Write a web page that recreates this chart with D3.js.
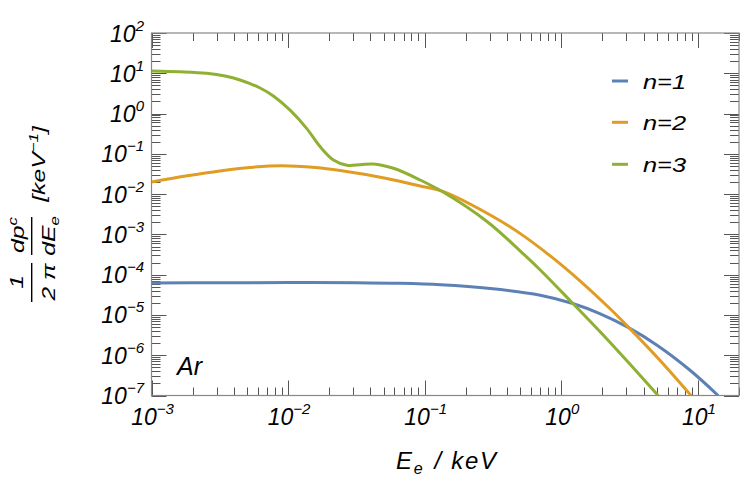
<!DOCTYPE html>
<html><head><meta charset="utf-8">
<script src="https://cdn.jsdelivr.net/npm/d3@7"></script>
<style>body{margin:0;background:#fff}text{font-family:"Liberation Sans",Arial,Helvetica,sans-serif;font-style:italic;fill:#000}</style>
</head><body>
<svg id="c" width="747" height="477"></svg>
<script>
// ---- data ----
const seriesNames = ["n=1", "n=2", "n=3"];
const seriesColors = ["#5E81B5", "#E19C24", "#8FB032"];

const n1Energy = [0.001, 0.00316, 0.01, 0.0316, 0.0662, 0.1309, 0.302, 0.7015, 1.197, 1.932, 3.062, 5.023, 8.81, 14.06];
const n1Value  = [6.22e-5, 6.31e-5, 6.36e-5, 6.3e-5, 6.08e-5, 5.6e-5, 4.53e-5, 3.09e-5, 1.945e-5, 1.067e-5, 4.97e-6, 1.775e-6, 4.18e-7, 1.0e-7];

const n2Energy = [0.001, 0.001778, 0.003162, 0.005267, 0.008991, 0.01585, 0.02404, 0.05049, 0.09268, 0.1374, 0.302, 0.5012, 0.9036, 1.377, 2.286, 3.062, 5.309, 8.913];
const n2Value  = [0.02, 0.028, 0.03771, 0.04605, 0.05047, 0.04553, 0.03837, 0.02513, 0.0159, 0.01148, 0.003022, 0.001044, 2.328e-4, 6.91e-5, 1.402e-5, 5.216e-6, 7.32e-7, 1.0e-7];

const n3Energy = [0.001, 0.001618, 0.002535, 0.003454, 0.004446, 0.006237, 0.0078, 0.01034, 0.01371, 0.01715, 0.02147, 0.02692, 0.0337, 0.04217, 0.05906, 0.09268, 0.1374, 0.2858, 0.5012, 0.7015, 1.197, 1.932, 3.199, 5.117];
const n3Value  = [11.40, 10.89, 10.0, 8.56, 6.81, 4.312, 2.729, 1.212, 0.4231, 0.1512, 0.07031, 0.05224, 0.05346, 0.05598, 0.04375, 0.02241, 0.01109, 0.002089, 3.864e-4, 1.306e-4, 2.037e-5, 3.767e-6, 5.885e-7, 1.0e-7];

const xDomain = [1e-3, 20];
const yDomain = [1e-7, 1e2];
const xTickExps = [-3, -2, -1, 0, 1];
const yTickExps = [-7, -6, -5, -4, -3, -2, -1, 0, 1, 2];
const xTitle = ["E", "e", " / keV"];
const elementLabel = "Ar";

// ---- drawing ----
const svg = d3.select("#c");
const L = 151.5, R = 739, T = 33, B = 395.5;
const x = d3.scaleLog().domain(xDomain).range([L, R]);
const y = d3.scaleLog().domain(yDomain).range([B, T]);

svg.append("defs").append("clipPath").attr("id", "clip")
  .append("rect").attr("x", L).attr("y", T).attr("width", R - L).attr("height", B - T);

const series = [
  {name: seriesNames[0], color: seriesColors[0], pts: n1Energy.map((e, i) => [e, n1Value[i]])},
  {name: seriesNames[1], color: seriesColors[1], pts: n2Energy.map((e, i) => [e, n2Value[i]])},
  {name: seriesNames[2], color: seriesColors[2], pts: n3Energy.map((e, i) => [e, n3Value[i]])}
];

// ticks (inward, on all four sides)
const tickCol = "#555";
function minorList(domain) {
  const out = [];
  const lo = Math.floor(Math.log10(domain[0])), hi = Math.ceil(Math.log10(domain[1]));
  for (let k = lo; k <= hi; k++) for (let m = 1; m <= 9; m++) {
    const v = m * Math.pow(10, k);
    if (v >= domain[0] * 0.9999 && v <= domain[1] * 1.0001) out.push({v, major: m === 1});
  }
  return out;
}
const gt = svg.append("g").attr("stroke", tickCol).attr("stroke-width", 1);
minorList(xDomain).forEach(t => {
  const px = Math.round(x(t.v)) + 0.5, len = t.major ? 15 : 8;
  gt.append("line").attr("x1", px).attr("x2", px).attr("y1", B).attr("y2", B - len);
  gt.append("line").attr("x1", px).attr("x2", px).attr("y1", T).attr("y2", T + len);
});
minorList(yDomain).forEach(t => {
  const py = Math.round(y(t.v)) + 0.5, len = t.major ? 15 : 9;
  gt.append("line").attr("y1", py).attr("y2", py).attr("x1", L).attr("x2", L + len);
  gt.append("line").attr("y1", py).attr("y2", py).attr("x1", R).attr("x2", R - len);
});
svg.append("rect").attr("x", L).attr("y", T).attr("width", R - L).attr("height", B - T)
  .attr("fill", "none").attr("stroke", "#888").attr("stroke-width", 1.2);

// curves
const line = d3.line().x(d => x(d[0])).y(d => y(d[1])).curve(d3.curveCatmullRom.alpha(0.5));
const gc = svg.append("g").attr("clip-path", "url(#clip)");
series.forEach(s => {
  gc.append("path").attr("d", line(s.pts)).attr("fill", "none")
    .attr("stroke", s.color).attr("stroke-width", 3).attr("stroke-linejoin", "round");
});

// tick labels
function pow10(sel, e) {
  sel.append("tspan").text("10");
  sel.append("tspan").attr("dy", -11).attr("font-size", 15).text(e < 0 ? "\u2212" + (-e) : String(e));
}
yTickExps.forEach(e => {
  const t = svg.append("text").attr("x", 144).attr("y", y(Math.pow(10, e)) + 8.5)
    .attr("text-anchor", "end").attr("font-size", 23);
  pow10(t, e);
});
xTickExps.forEach(e => {
  const t = svg.append("text").attr("x", x(Math.pow(10, e)) + 1).attr("y", 425)
    .attr("text-anchor", "middle").attr("font-size", 23);
  pow10(t, e);
});

// x title
const xt = svg.append("text").attr("x", 446).attr("y", 469).attr("text-anchor", "middle").attr("font-size", 24);
xt.append("tspan").text(xTitle[0]);
xt.append("tspan").attr("dy", 5).attr("font-size", 16).text(xTitle[1]);
xt.append("tspan").attr("dy", -5).attr("dx", 2).text(xTitle[2]);
xt.attr("textLength", 100).attr("lengthAdjust", "spacing");

// y title: (1 / 2π) (dp^c / dE_e) [keV^-1]
const yl = svg.append("g");
function rot(X, Y) { return yl.append("text").attr("transform", `translate(${X},${Y}) rotate(-90) scale(1.3,1)`)
  .attr("text-anchor", "middle").attr("font-size", 19); }
rot(23, 282).text("1");
rot(55, 282).text("2 \u03C0");
const dp = rot(24, 235); dp.append("tspan").text("dp"); dp.append("tspan").attr("dy", -7).attr("font-size", 13).text("c");
const de = rot(55, 236); de.append("tspan").text("dE"); de.append("tspan").attr("dy", 4).attr("font-size", 13).text("e");
const kv = rot(45, 164); kv.append("tspan").text("[keV");
kv.append("tspan").attr("dy", -7).attr("font-size", 13).text("\u22121");
kv.append("tspan").attr("dy", 7).text("]");
yl.append("line").attr("x1", 31.7).attr("x2", 31.7).attr("y1", 263).attr("y2", 302).attr("stroke", "#000").attr("stroke-width", 1.4);
yl.append("line").attr("x1", 31.7).attr("x2", 31.7).attr("y1", 217).attr("y2", 255).attr("stroke", "#000").attr("stroke-width", 1.4);

// element label
svg.append("text").attr("x", 177).attr("y", 375).attr("font-size", 25).text(elementLabel);

// legend
const legY = [81, 122.3, 164.3];
series.forEach((s, i) => {
  svg.append("line").attr("x1", 612).attr("x2", 628).attr("y1", legY[i]).attr("y2", legY[i])
    .attr("stroke", s.color).attr("stroke-width", 3);
  svg.append("text").attr("x", 643).attr("y", legY[i] + 8).attr("font-size", 21)
    .attr("textLength", 43).attr("lengthAdjust", "spacingAndGlyphs").text(s.name);
});
</script>
</body></html>
